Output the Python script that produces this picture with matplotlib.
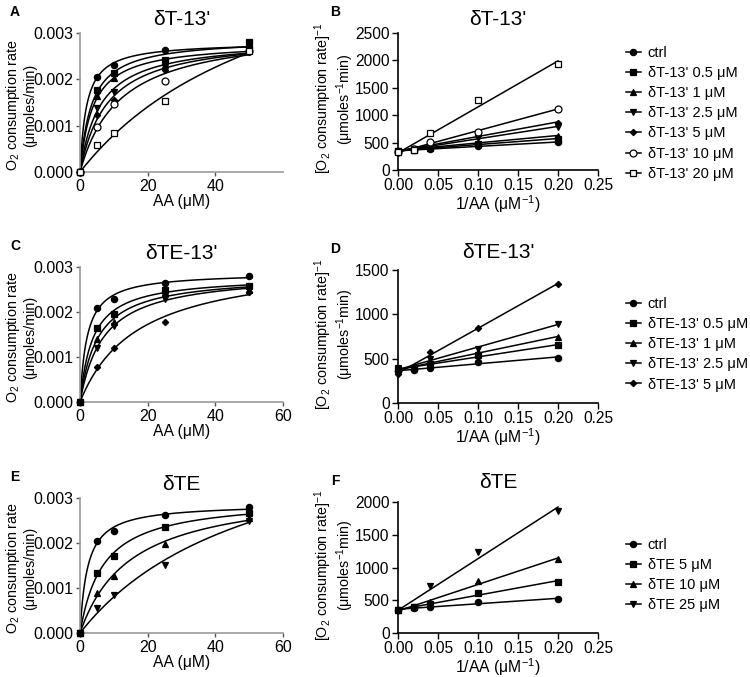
import matplotlib.pyplot as plt
import numpy as np

plt.rcParams['font.family'] = ['Liberation Sans', 'DejaVu Sans']
plt.rcParams['mathtext.fontset'] = 'custom'
plt.rcParams['mathtext.rm'] = 'Liberation Sans'
plt.rcParams['mathtext.it'] = 'Liberation Sans:italic'
plt.rcParams['mathtext.default'] = 'regular'

# substrate concentrations (AA, uM) and reciprocals
aa = [0, 5, 10, 25, 50]
inv_aa = [0, 0.02, 0.04, 0.1, 0.2]

# panel A / B : dT-13'
labels_t13 = ["ctrl", "δT-13' 0.5 μM", "δT-13' 1 μM", "δT-13' 2.5 μM",
              "δT-13' 5 μM", "δT-13' 10 μM", "δT-13' 20 μM"]
rate_t13 = [
    [0, 0.00206, 0.00231, 0.00263, 0.00270],
    [0, 0.00176, 0.00214, 0.00242, 0.00280],
    [0, 0.00163, 0.00202, 0.00231, 0.00270],
    [0, 0.00138, 0.00173, 0.00227, 0.00262],
    [0, 0.00123, 0.00155, 0.00220, 0.00260],
    [0, 0.00098, 0.00147, 0.00197, 0.00262],
    [0, 0.00058, 0.00084, 0.00153, 0.00262],
]
recip_t13 = [
    [350, 365, 380, 435, 510],
    [345, 370, 410, 470, 570],
    [350, 375, 430, 500, 625],
    [340, 380, 440, 580, 790],
    [345, 380, 455, 640, 865],
    [330, 380, 510, 700, 1120],
    [320, 370, 680, 1280, 1930],
]

# panel C / D : dTE-13'
labels_te13 = ["ctrl", "δTE-13' 0.5 μM", "δTE-13' 1 μM", "δTE-13' 2.5 μM",
               "δTE-13' 5 μM"]
rate_te13 = [
    [0, 0.00208, 0.00230, 0.00265, 0.00280],
    [0, 0.00164, 0.00196, 0.00249, 0.00258],
    [0, 0.00141, 0.00178, 0.00245, 0.00250],
    [0, 0.00119, 0.00169, 0.00230, 0.00250],
    [0, 0.00078, 0.00121, 0.00178, 0.00245],
]
recip_te13 = [
    [360, 370, 400, 460, 511],
    [385, 390, 440, 540, 650],
    [380, 395, 455, 575, 745],
    [395, 400, 500, 610, 895],
    [330, 405, 580, 850, 1340],
]

# panel E / F : dTE
labels_te = ["ctrl", "δTE 5 μM", "δTE 10 μM", "δTE 25 μM"]
rate_te = [
    [0, 0.00205, 0.00227, 0.00262, 0.00280],
    [0, 0.00134, 0.00171, 0.00236, 0.00266],
    [0, 0.00090, 0.00127, 0.00197, 0.00255],
    [0, 0.00055, 0.00084, 0.00151, 0.00250],
]
recip_te = [
    [345, 380, 400, 475, 515],
    [345, 395, 440, 610, 785],
    [345, 395, 480, 795, 1125],
    [345, 400, 715, 1240, 1870],
]

markers = [
    dict(marker='o', mfc='black', ms=4.5),
    dict(marker='s', mfc='black', ms=4.5),
    dict(marker='^', mfc='black', ms=4.5),
    dict(marker='v', mfc='black', ms=4.5),
    dict(marker='D', mfc='black', ms=3.2),
    dict(marker='o', mfc='white', ms=5),
    dict(marker='s', mfc='white', ms=5),
]

W, H = 750, 677


def rect(left, right, top, bottom):
    return [left / W, 1 - bottom / H, (right - left) / W, (bottom - top) / H]


def mm_fit(s, v):
    """Michaelis-Menten fit by scanning Km, least squares for Vmax."""
    s = np.asarray(s, float)
    v = np.asarray(v, float)
    best = None
    for km in np.linspace(0.2, 300, 6000):
        f = s / (km + s)
        vmax = f.dot(v) / f.dot(f)
        sse = ((vmax * f - v) ** 2).sum()
        if best is None or sse < best[0]:
            best = (sse, vmax, km)
    return best[1], best[2]


def rate_panel(ax, rates, title, letter, xticks):
    sx = np.linspace(0, 50, 300)
    for i, v in enumerate(rates):
        vmax, km = mm_fit(aa, v)
        ax.plot(sx, vmax * sx / (km + sx), color='black', lw=1.1)
        ax.plot(aa, v, ls='none', color='black', mec='black', mew=0.9,
                clip_on=False, zorder=3, **markers[i])
    ax.set_xlim(0, 60)
    ax.set_ylim(0, 0.003)
    ax.set_xticks(xticks)
    ax.set_yticks([0, 0.001, 0.002, 0.003])
    ax.set_yticklabels(['0.000', '0.001', '0.002', '0.003'])
    for s in ['top', 'right']:
        ax.spines[s].set_visible(False)
    for s in ['left', 'bottom']:
        ax.spines[s].set_color('#9a9a9a')
        ax.spines[s].set_linewidth(1.2)
    ax.tick_params(length=3, width=1, color='#555555', labelsize=11.5, pad=2)
    ax.set_xlabel('AA (μM)', fontsize=11.3, labelpad=0)
    ax.set_ylabel('O$_2$ consumption rate\n(μmoles/min)', fontsize=10.3,
                  linespacing=1.05)
    ax.yaxis.set_label_coords((37 - 80) / 203, 0.48)
    ax.set_title(title, fontsize=15, pad=6)
    pos = ax.get_position()
    ax.figure.text(15 / W, pos.y1 + 21 / H, letter, fontsize=10,
                   fontweight='bold', ha='center', va='center')


def recip_panel(ax, recips, title, letter, ymax, ystep, labels, leg_top, tpad):
    lx = np.array([0, 0.2])
    handles = []
    for i, r in enumerate(recips):
        k, b = np.polyfit(inv_aa, r, 1)
        ax.plot(lx, k * lx + b, color='black', lw=1.1)
        ax.plot(inv_aa, r, ls='none', color='black', mec='black', mew=0.9,
                clip_on=False, zorder=3, **markers[i])
        handles.append(ax.plot([], [], ls='-', color='black', lw=1.1,
                               mec='black', mew=0.9, **markers[i])[0])
    ax.set_xlim(0, 0.25)
    ax.set_ylim(0, ymax)
    ax.set_xticks([0, 0.05, 0.10, 0.15, 0.20, 0.25])
    ax.set_xticklabels(['0.00', '0.05', '0.10', '0.15', '0.20', '0.25'])
    ax.set_yticks(np.arange(0, ymax + 1, ystep))
    for s in ['top', 'right']:
        ax.spines[s].set_visible(False)
    for s in ['left', 'bottom']:
        ax.spines[s].set_linewidth(1.2)
    ax.tick_params(length=4, width=1, labelsize=11.2, pad=2)
    ax.set_xlabel('1/AA (μM$^{-1}$)', fontsize=11.3, labelpad=0)
    ax.set_ylabel('[O$_2$ consumption rate]$^{-1}$\n(μmoles$^{-1}$min)',
                  fontsize=10.3, linespacing=1.0)
    ax.yaxis.set_label_coords((356 - 398) / 200, 0.52)
    ax.set_title(title, fontsize=15, pad=tpad)
    pos = ax.get_position()
    ax.figure.text(335 / W, pos.y1 + 21 / H, letter, fontsize=10,
                   fontweight='bold', ha='center', va='center')
    ax.figure.legend(handles, labels, loc='upper left',
                     bbox_to_anchor=(626 / W, 1 - leg_top / H),
                     frameon=False, fontsize=10.5, handlelength=1.0,
                     handletextpad=0.5, labelspacing=0.42, borderpad=0,
                     borderaxespad=0)


fig = plt.figure(figsize=(W / 100, H / 100), dpi=100)

axA = fig.add_axes(rect(80, 283, 33, 172))
axB = fig.add_axes(rect(398, 598, 33, 170))
axC = fig.add_axes(rect(80, 283, 267, 402))
axD = fig.add_axes(rect(398, 598, 270, 403))
axE = fig.add_axes(rect(80, 283, 498, 633))
axF = fig.add_axes(rect(398, 598, 502, 633))

rate_panel(axA, rate_t13, "δT-13'", 'A', [0, 20, 40])
recip_panel(axB, recip_t13, "δT-13'", 'B', 2500, 500, labels_t13, 46, 6)
rate_panel(axC, rate_te13, "δTE-13'", 'C', [0, 20, 40, 60])
recip_panel(axD, recip_te13, "δTE-13'", 'D', 1500, 500, labels_te13, 297, 9)
rate_panel(axE, rate_te, 'δTE', 'E', [0, 20, 40, 60])
recip_panel(axF, recip_te, 'δTE', 'F', 2000, 500, labels_te, 538, 10)

fig.savefig('out.png', dpi=100)
